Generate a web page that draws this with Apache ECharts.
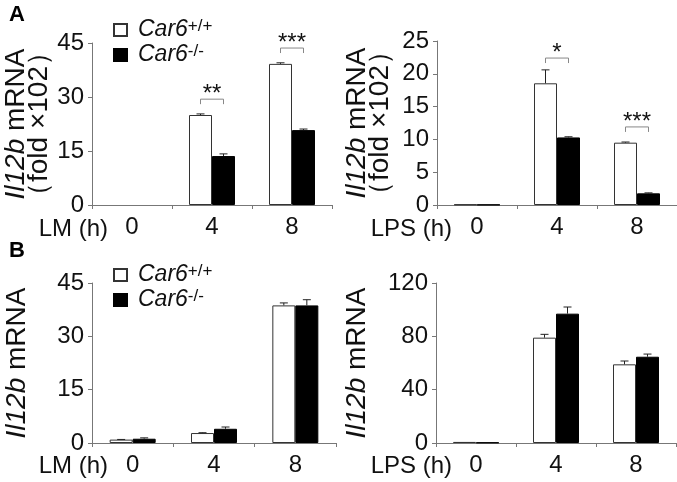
<!DOCTYPE html>
<html>
<head>
<meta charset="utf-8">
<script src="https://cdn.jsdelivr.net/npm/echarts@6/dist/echarts.min.js"></script>
<style>
  html, body { margin: 0; padding: 0; background: #fff; }
  #main { width: 677px; height: 482px; }
</style>
</head>
<body>
<div id="main"></div>
<script>
// data
var categories = ['0', '4', '8'];
var legendNames = ['Car6+/+', 'Car6-/-'];

// A, left: LM infection, fold x10^2
var lmWtA = [0, 25.0, 39.2];
var lmWtErrA = [0, 0.3, 0.3];
var lmKoA = [0, 13.6, 20.8];
var lmKoErrA = [0, 0.6, 0.3];
var lmSigCat = [1, 2];
var lmSigY = [29.4, 43.6];
var lmSigText = ['**', '***'];

// A, right: LPS, fold x10^2
var lpsWtA = [0.08, 18.55, 9.5];
var lpsWtErrA = [0, 2.05, 0.1];
var lpsKoA = [0.05, 10.3, 1.78];
var lpsKoErrA = [0, 0.1, 0.07];
var lpsSigCat = [1, 2];
var lpsSigY = [22.4, 11.9];
var lpsSigText = ['*', '***'];

// B, left: LM
var lmWtB = [0.95, 2.8, 38.7];
var lmWtErrB = [0.05, 0.1, 0.7];
var lmKoB = [1.2, 4.0, 38.7];
var lmKoErrB = [0.25, 0.5, 1.6];

// B, right: LPS
var lpsWtB = [0.8, 79, 59];
var lpsWtErrB = [0, 2.5, 2.5];
var lpsKoB = [0.4, 97, 64.7];
var lpsKoErrB = [0, 5, 2];

var BAR_W = 23;
var AXIS_COLOR = '#777';
var TEXT_COLOR = '#111';
var FONT = 'Liberation Sans, Arial, sans-serif';

var chart = echarts.init(document.getElementById('main'));

function xAxisFor(gridIndex) {
    return {
        type: 'category',
        gridIndex: gridIndex,
        data: categories,
        axisLine: { lineStyle: { color: AXIS_COLOR, width: 1 } },
        axisTick: { show: true, length: 4, lineStyle: { color: AXIS_COLOR } },
        axisLabel: { color: TEXT_COLOR, fontSize: 24, fontFamily: FONT, margin: 10 }
    };
}

function yAxisFor(gridIndex, max, interval, name, gap) {
    return {
        type: 'value',
        gridIndex: gridIndex,
        min: 0,
        max: max,
        interval: interval,
        name: name,
        nameLocation: 'middle',
        nameRotate: 90,
        nameGap: gap,
        nameTextStyle: {
            color: TEXT_COLOR,
            fontSize: 28,
            fontFamily: FONT,
            lineHeight: 23,
            rich: {
                i: { fontStyle: 'italic', fontSize: 28, fontFamily: FONT, color: TEXT_COLOR, lineHeight: 23 }
            }
        },
        splitLine: { show: false },
        axisLine: { show: true, lineStyle: { color: AXIS_COLOR, width: 1 } },
        axisTick: { show: true, length: 4, lineStyle: { color: AXIS_COLOR } },
        axisLabel: { color: TEXT_COLOR, fontSize: 24, fontFamily: FONT, margin: 8 }
    };
}

function barSeries(name, idx, data, white) {
    return {
        name: name,
        type: 'bar',
        xAxisIndex: idx,
        yAxisIndex: idx,
        // a zero bar is not drawn at all in the figure
        data: data.map(function (v) { return v === 0 ? '-' : v; }),
        barWidth: BAR_W,
        barGap: '0%',
        itemStyle: white
            ? { color: '#fff', borderColor: '#333', borderWidth: 1 }
            : { color: '#000', borderColor: '#000', borderWidth: 1 },
        emphasis: { disabled: true }
    };
}

function errSeries(idx, values, errs, side) {
    var d = values.map(function (v, i) { return [i, v, errs[i]]; });
    return {
        type: 'custom',
        xAxisIndex: idx,
        yAxisIndex: idx,
        data: d,
        z: 5,
        silent: true,
        renderItem: function (params, api) {
            if (api.value(2) <= 0) return null;
            var base = api.coord([api.value(0), api.value(1)]);
            var top = api.coord([api.value(0), api.value(1) + api.value(2)]);
            var cx = base[0] + side * BAR_W / 2;
            var st = { stroke: '#222', lineWidth: 1 };
            return {
                type: 'group',
                children: [
                    { type: 'line', shape: { x1: cx, y1: base[1], x2: cx, y2: top[1] }, style: st },
                    { type: 'line', shape: { x1: cx - 4, y1: top[1], x2: cx + 4, y2: top[1] }, style: st }
                ]
            };
        }
    };
}

function sigSeries(idx, cats, ys, texts) {
    var d = cats.map(function (c, i) { return [c, ys[i]]; });
    return {
        type: 'custom',
        xAxisIndex: idx,
        yAxisIndex: idx,
        data: d,
        z: 5,
        silent: true,
        renderItem: function (params, api) {
            var p = api.coord([api.value(0), api.value(1)]);
            var hw = BAR_W / 2;
            return {
                type: 'group',
                children: [
                    {
                        type: 'polyline',
                        shape: { points: [[p[0] - hw, p[1] + 5], [p[0] - hw, p[1]], [p[0] + hw, p[1]], [p[0] + hw, p[1] + 5]] },
                        style: { stroke: '#888', lineWidth: 1, fill: null }
                    },
                    {
                        type: 'text',
                        x: p[0], y: p[1] - 5,
                        style: {
                            text: texts[params.dataIndex],
                            fill: TEXT_COLOR,
                            font: '24px ' + FONT,
                            align: 'center',
                            verticalAlign: 'middle'
                        }
                    }
                ]
            };
        }
    };
}

function legendAt(top) {
    return {
        data: legendNames,
        orient: 'vertical',
        left: 108,
        top: top,
        icon: 'rect',
        itemWidth: 13,
        itemHeight: 12,
        itemGap: 1,
        selectedMode: false,
        formatter: function (name) {
            return '{i|Car6}{s|' + name.slice(4) + '}';
        },
        textStyle: {
            color: TEXT_COLOR,
            lineHeight: 24,
            rich: {
                i: { fontStyle: 'italic', fontSize: 23, fontFamily: FONT, color: TEXT_COLOR, lineHeight: 24, padding: [0, 0, 0, 6] },
                s: { fontSize: 17, fontFamily: FONT, color: TEXT_COLOR, verticalAlign: 'top', lineHeight: 24 }
            }
        }
    };
}

var nameFold = '{i|Il12b} mRNA\n\uff08fold \u00d7102\uff09';
var nameMrna = '{i|Il12b} mRNA';

var option = {
    animation: false,
    backgroundColor: '#fff',
    grid: [
        { left: 92, top: 43, width: 240, height: 162, outerBoundsMode: 'none' },
        { left: 437, top: 41, width: 240, height: 164, outerBoundsMode: 'none' },
        { left: 92, top: 283, width: 244, height: 160, outerBoundsMode: 'none' },
        { left: 436, top: 283, width: 240, height: 160, outerBoundsMode: 'none' }
    ],
    xAxis: [xAxisFor(0), xAxisFor(1), xAxisFor(2), xAxisFor(3)],
    yAxis: [
        yAxisFor(0, 45, 15, nameFold, 41),
        yAxisFor(1, 25, 5, nameFold, 45),
        yAxisFor(2, 45, 15, nameMrna, 63),
        yAxisFor(3, 120, 40, nameMrna, 67)
    ],
    legend: [legendAt(13), legendAt(258)],
    graphic: [
        { type: 'text', left: 9, top: 4, style: { text: 'A', font: 'bold 22px ' + FONT, fill: '#000' } },
        { type: 'text', left: 9, top: 240, style: { text: 'B', font: 'bold 22px ' + FONT, fill: '#000' } },
        { type: 'text', right: 677 - 108, top: 217, style: { text: 'LM (h)', font: '24px ' + FONT, fill: TEXT_COLOR } },
        { type: 'text', right: 677 - 452, top: 217, style: { text: 'LPS (h)', font: '24px ' + FONT, fill: TEXT_COLOR } },
        { type: 'text', right: 677 - 108, top: 454, style: { text: 'LM (h)', font: '24px ' + FONT, fill: TEXT_COLOR } },
        { type: 'text', right: 677 - 452, top: 454, style: { text: 'LPS (h)', font: '24px ' + FONT, fill: TEXT_COLOR } }
    ],
    series: [
        barSeries(legendNames[0], 0, lmWtA, true),
        barSeries(legendNames[1], 0, lmKoA, false),
        errSeries(0, lmWtA, lmWtErrA, -1),
        errSeries(0, lmKoA, lmKoErrA, 1),
        sigSeries(0, lmSigCat, lmSigY, lmSigText),

        barSeries(legendNames[0], 1, lpsWtA, true),
        barSeries(legendNames[1], 1, lpsKoA, false),
        errSeries(1, lpsWtA, lpsWtErrA, -1),
        errSeries(1, lpsKoA, lpsKoErrA, 1),
        sigSeries(1, lpsSigCat, lpsSigY, lpsSigText),

        barSeries(legendNames[0], 2, lmWtB, true),
        barSeries(legendNames[1], 2, lmKoB, false),
        errSeries(2, lmWtB, lmWtErrB, -1),
        errSeries(2, lmKoB, lmKoErrB, 1),

        barSeries(legendNames[0], 3, lpsWtB, true),
        barSeries(legendNames[1], 3, lpsKoB, false),
        errSeries(3, lpsWtB, lpsWtErrB, -1),
        errSeries(3, lpsKoB, lpsKoErrB, 1)
    ]
};

option && chart.setOption(option);
</script>
</body>
</html>
